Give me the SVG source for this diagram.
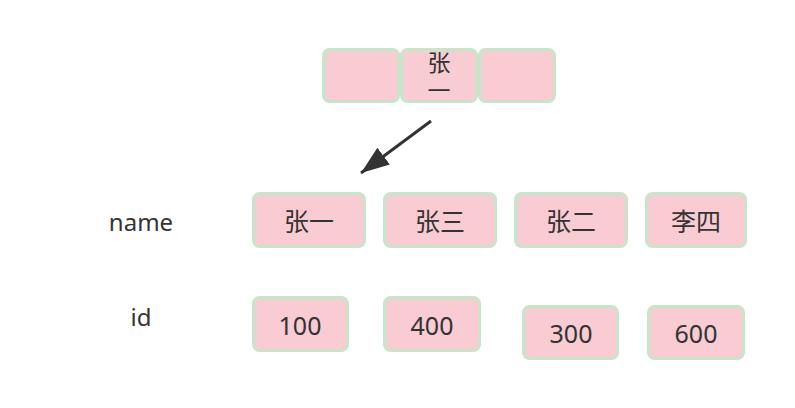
<svg xmlns="http://www.w3.org/2000/svg" width="795" height="408" viewBox="0 0 795 408">
<style>
.b{fill:#f9ccd3;stroke:#c6e5c9;stroke-width:3}
.t{font-family:"Noto Sans CJK SC","Noto Sans",sans-serif;font-size:25px;fill:#333;text-anchor:middle;dominant-baseline:central}
.tt{font-family:"Noto Sans CJK SC","Noto Sans",sans-serif;font-size:23px;fill:#333;text-anchor:middle;dominant-baseline:central}
.n{font-family:"Noto Sans","Liberation Sans",sans-serif;font-size:25px;fill:#333;text-anchor:middle;dominant-baseline:central}
.l{font-family:"Noto Sans","Liberation Sans",sans-serif;font-size:24px;fill:#333;text-anchor:middle;dominant-baseline:central}
</style>
<defs>
<marker id="ah" markerWidth="9.4" markerHeight="7" refX="9.4" refY="3.5" orient="auto" markerUnits="strokeWidth">
<path d="M0,0 L9.4,3.5 L0,7 z" fill="#333"/>
</marker>
</defs>
<rect width="795" height="408" fill="#fff"/>
<g id="top1"><rect class="b" x="323.5" y="49.5" width="75" height="52" rx="6"/></g>
<g id="top2"><rect class="b" x="401.5" y="49.5" width="75" height="52" rx="6"/><text class="tt" x="439" y="61">张</text><text class="tt" x="439" y="89">一</text></g>
<g id="top3"><rect class="b" x="479.5" y="49.5" width="75" height="52" rx="6"/></g>
<g id="lname"><text class="l" x="141" y="221">name</text></g>
<g id="lid"><text class="l" x="141" y="316">id</text></g>
<g id="n1"><rect class="b" x="253.5" y="193.5" width="111" height="53" rx="6"/><text class="t" x="309" y="220">张一</text></g>
<g id="n2"><rect class="b" x="384.5" y="193.5" width="111" height="53" rx="6"/><text class="t" x="440" y="220">张三</text></g>
<g id="n3"><rect class="b" x="515.5" y="193.5" width="111" height="53" rx="6"/><text class="t" x="571" y="220">张二</text></g>
<g id="n4"><rect class="b" x="646.5" y="193.5" width="99" height="53" rx="6"/><text class="t" x="696" y="220">李四</text></g>
<g id="i1"><rect class="b" x="253.5" y="297.5" width="94" height="53" rx="6"/><text class="n" x="300" y="325">100</text></g>
<g id="i2"><rect class="b" x="384.5" y="297.5" width="95" height="53" rx="6"/><text class="n" x="432" y="325">400</text></g>
<g id="i3"><rect class="b" x="523.5" y="306.5" width="94" height="52" rx="6"/><text class="n" x="571" y="333">300</text></g>
<g id="i4"><rect class="b" x="648.5" y="306.5" width="95" height="52" rx="6"/><text class="n" x="696" y="333">600</text></g>
<g id="connectors">
<line x1="431" y1="121" x2="361" y2="173" stroke="#333" stroke-width="3" marker-end="url(#ah)"/>
</g>
</svg>
